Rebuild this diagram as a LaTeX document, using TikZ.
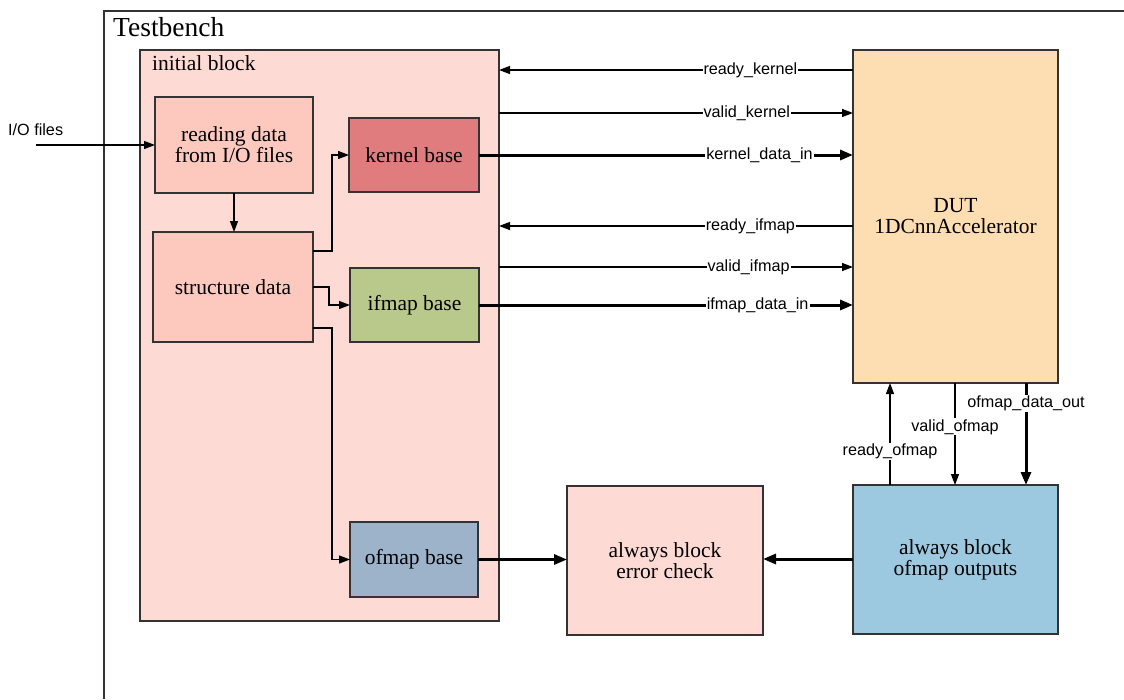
\documentclass[tikz,border=0pt]{standalone}
\usepackage{fontspec}
\setmainfont{Liberation Serif}
\newfontfamily\labelfont{Liberation Sans}
\usetikzlibrary{arrows.meta}

\definecolor{edgegray}{HTML}{333333}
\definecolor{initfill}{HTML}{FDDAD4}
\definecolor{stagefill}{HTML}{FDC8BE}
\definecolor{kernfill}{HTML}{E07B7E}
\definecolor{ifmapfill}{HTML}{B9C98B}
\definecolor{ofmapfill}{HTML}{9CB3CA}
\definecolor{outfill}{HTML}{9CC8E0}
\definecolor{dutfill}{HTML}{FDDEB3}

\tikzset{
  blockbox/.style={draw=edgegray, line width=1.4pt, inner sep=0pt, outer sep=0pt,
    align=center, font=\fontsize{21.5}{21}\selectfont},
  wire/.style={line width=1.2pt, -{Triangle[length=11pt,width=8pt]}},
  buswire/.style={line width=3pt, -{Triangle[length=13pt,width=10pt]}},
  sig/.style={fill=white, inner sep=1pt, font=\labelfont\fontsize{16.2}{18}\selectfont},
}

\begin{document}
\begin{tikzpicture}[x=1pt, y=-1pt]
\useasboundingbox (0,0) rectangle (1124,699);
\fill[white] (0,0) rectangle (1124,699);

% Testbench frame
\coordinate (tbtopright) at (1124,11);
\coordinate (tbbottomleft) at (104,699);
\draw[edgegray, line width=1.6pt] (tbtopright) -- (tbtopright -| tbbottomleft) -- (tbbottomleft);
\node[anchor=base west, inner sep=0pt, font=\fontsize{27.5}{30}\selectfont] (tblabel) at (113,36) {Testbench};

% initial block and its contents
\node[blockbox, fill=initfill, minimum width=359pt, minimum height=571pt] (init) at (319.5,335.5) {};
\node[anchor=base west, inner sep=0pt, font=\fontsize{21.5}{21}\selectfont] (initlabel) at (152,70) {initial block};

\node[blockbox, fill=stagefill, minimum width=158pt, minimum height=96pt] (read) at (234,145) {reading data\\from I/O files};
\node[blockbox, fill=stagefill, minimum width=160pt, minimum height=110pt] (struct) at (233,287) {structure data};
\node[blockbox, fill=kernfill, minimum width=130pt, minimum height=74pt] (kern) at (414,155) {kernel base};
\node[blockbox, fill=ifmapfill, minimum width=129pt, minimum height=74pt] (ifmap) at (414.5,305) {ifmap base};
\node[blockbox, fill=ofmapfill, minimum width=128pt, minimum height=75pt] (ofmap) at (414,559.5) {ofmap base};

% always blocks and the DUT
\node[blockbox, fill=initfill, minimum width=196pt, minimum height=149pt] (err) at (665,560.5) {always block\\error check};
\node[blockbox, fill=outfill, minimum width=205pt, minimum height=149pt] (outs) at (955.5,559.5) {always block\\ofmap outputs};
\node[blockbox, fill=dutfill, minimum width=205pt, minimum height=333pt] (dut) at (955.5,216.5) {DUT\\1DCnnAccelerator};

% file input
\node[anchor=west, inner sep=0pt, font=\labelfont\fontsize{16.2}{18}\selectfont] (iofiles) at (8,130) {I/O files};
\coordinate (iostart) at (36,145);
\draw[wire] (iostart) -- (iostart -| read.west);

% data preparation inside the initial block
\draw[wire] (read.south -| 234,0) -- (struct.north -| 234,0);
\draw[wire] (struct.east |- 0,251) -- (332,251) -- (332,155) -- (kern.west);
\draw[wire] (struct.east |- 0,287) -- (329,287) -- (329,305) -- (ifmap.west);
\draw[wire] (struct.east |- 0,328) -- (332,328) -- (332,559.5) -- (ofmap.west);

% handshake and data signals into the DUT
\draw[wire] (dut.west |- 0,70) -- node[sig, pos=0.29] (lrk) {ready\_kernel} (init.east |- 0,70);
\draw[wire] (init.east |- 0,113) -- node[sig, pos=0.70] (lvk) {valid\_kernel} (dut.west |- 0,113);
\draw[buswire] (kern.east) -- node[sig, pos=0.75] (lkd) {kernel\_data\_in} (kern.east -| dut.west);
\draw[wire] (dut.west |- 0,226) -- node[sig, pos=0.29] (lri) {ready\_ifmap} (init.east |- 0,226);
\draw[wire] (init.east |- 0,267) -- node[sig, pos=0.705] (lvi) {valid\_ifmap} (dut.west |- 0,267);
\draw[buswire] (ifmap.east) -- node[sig, pos=0.745] (lid) {ifmap\_data\_in} (ifmap.east -| dut.west);

% output handshake
\draw[wire] (outs.north -| 890,0) -- node[sig, pos=0.33] (lro) {ready\_ofmap} (dut.south -| 890,0);
\draw[wire] (dut.south -| 955,0) -- node[sig, pos=0.43] (lvo) {valid\_ofmap} (outs.north -| 955,0);
\draw[buswire] (dut.south -| 1026,0) -- node[sig, pos=0.2] (lod) {ofmap\_data\_out} (outs.north -| 1026,0);

% error check inputs
\draw[buswire] (ofmap.east) -- (ofmap.east -| err.west);
\draw[buswire] (outs.west |- 0,559) -- (err.east |- 0,559);
\end{tikzpicture}
\end{document}
